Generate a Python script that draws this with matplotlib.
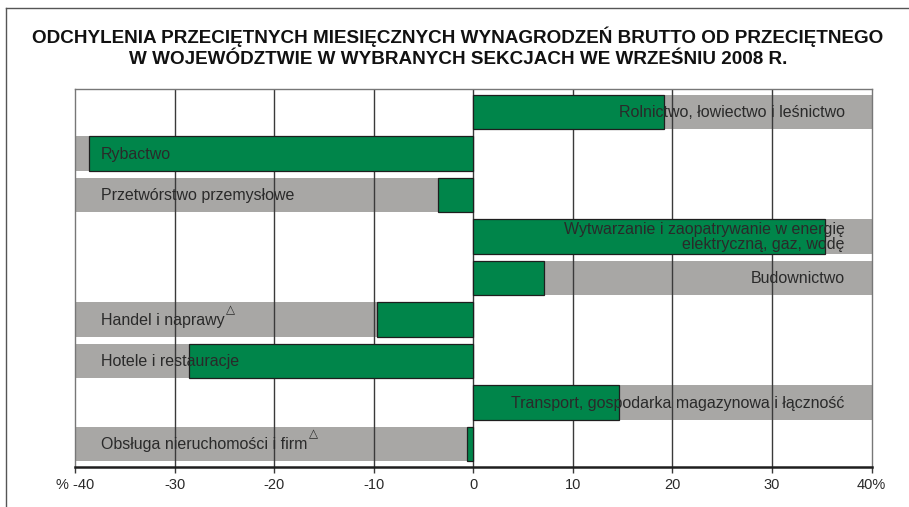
import matplotlib
matplotlib.use("Agg")
import matplotlib.pyplot as plt
from matplotlib.lines import Line2D
import numpy as np

categories = [
    "Rolnictwo, łowiectwo i leśnictwo",
    "Rybactwo",
    "Przetwórstwo przemysłowe",
    "Wytwarzanie i zaopatrywanie w energię\nelektryczną, gaz, wodę",
    "Budownictwo",
    "Handel i naprawy",
    "Hotele i restauracje",
    "Transport, gospodarka magazynowa i łączność",
    "Obsługa nieruchomości i firm",
]
values = [19.2, -38.6, -3.5, 35.3, 7.1, -9.7, -28.6, 14.6, -0.6]
marked = [False, False, False, False, False, True, False, False, True]
xticks = [-40, -30, -20, -10, 0, 10, 20, 30, 40]
xticklabels = ["% -40", "-30", "-20", "-10", "0", "10", "20", "30", "40%"]
title = ("ODCHYLENIA PRZECIĘTNYCH MIESIĘCZNYCH WYNAGRODZEŃ BRUTTO OD PRZECIĘTNEGO\n"
         "W WOJEWÓDZTWIE W WYBRANYCH SEKCJACH WE WRZEŚNIU 2008 R.")

plt.rcParams['font.family'] = ['Liberation Sans', 'DejaVu Sans']

W, H = 909, 507
fig = plt.figure(figsize=(W / 100, H / 100), dpi=100)
ax = fig.add_axes([75 / W, 1 - 467 / H, (871.5 - 75) / W, (467 - 89) / H])

GREEN = "#00854a"
GRAY = "#a8a7a5"
TXT = "#2a2a2a"

y = np.arange(len(categories))
xmin, xmax = xticks[0], xticks[-1]
band_ext = [xmax if v > 0 else xmin for v in values]

ax.barh(y, band_ext, height=0.83, color=GRAY, zorder=1)
for xv in xticks[1:-1]:
    ax.axvline(xv, color="#3a3a3a", lw=1.0, zorder=2)
ax.barh(y, values, height=0.83, color=GREEN, edgecolor="#1e1e1e", lw=0.9, zorder=3)

for i, (cat, v, m) in enumerate(zip(categories, values, marked)):
    if v > 0:
        t = ax.text(37.3, i + 0.02, cat, ha="right", va="center", fontsize=11.5,
                    color=TXT, zorder=5, linespacing=1.0)
    else:
        t = ax.text(-37.4, i + 0.02, cat, ha="left", va="center", fontsize=11.5,
                    color=TXT, zorder=5)
    if m:
        ax.annotate("△", xy=(1.0, 0.8), xycoords=t, xytext=(1, 0),
                    textcoords="offset points", ha="left", va="bottom",
                    fontsize=8.5, color=TXT, family=['DejaVu Sans'], zorder=5)

ax.set_xlim(xmin, xmax)
ax.set_ylim(len(categories) - 0.45, -0.55)
ax.set_yticks([])
ax.set_xticks(xticks)
ax.set_xticklabels(xticklabels, fontsize=10.5, color=TXT)
ax.tick_params(axis="x", length=4, width=1.0, color="#3a3a3a", pad=4)
for s in ["left", "top", "right"]:
    ax.spines[s].set_color("#777777")
    ax.spines[s].set_linewidth(1.0)
ax.spines["bottom"].set_color("#1e1e1e")
ax.spines["bottom"].set_linewidth(1.8)

fig.text(458 / W, 1 - 47 / H, title, ha="center", va="center", fontsize=13.6,
         fontweight="bold", color="#111111", linespacing=1.32)

fig.add_artist(Line2D([6 / W, 6 / W], [0, 1 - 8 / H], transform=fig.transFigure,
                      color="#555555", lw=1.0))
fig.add_artist(Line2D([6 / W, 1], [1 - 8 / H, 1 - 8 / H], transform=fig.transFigure,
                      color="#555555", lw=1.0))

fig.savefig("out.png", dpi=100)
